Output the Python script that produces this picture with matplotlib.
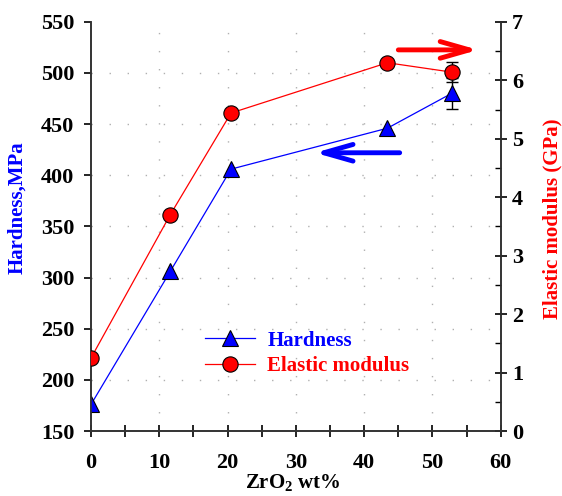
import matplotlib
matplotlib.use("Agg")
import matplotlib.pyplot as plt
from matplotlib.ticker import MultipleLocator

plt.rcParams['font.family'] = ['Liberation Serif', 'DejaVu Serif']
plt.rcParams['font.weight'] = 'bold'
plt.rcParams['mathtext.fontset'] = 'custom'
plt.rcParams['mathtext.rm'] = 'Liberation Serif:bold'
plt.rcParams['mathtext.bf'] = 'Liberation Serif:bold'

# data
zro2 = [0, 11.6, 20.5, 43.4, 52.8]
hardness = [176, 306, 406, 446, 480]
hardness_err = [0, 0, 0, 0, 15]
modulus = [1.25, 3.70, 5.44, 6.30, 6.14]
modulus_err = [0, 0, 0, 0, 0.17]

fig = plt.figure(figsize=(5.62, 4.96), dpi=100)
ax = fig.add_axes([0.162, 0.131, 0.729, 0.825])
ax2 = ax.twinx()

grid_kw = dict(color='#b0b0b0', lw=1.0, ls=(0, (1, 12)))
for gx in range(10, 60, 10):
    ax.axvline(gx, zorder=0, **grid_kw)
for gy in range(200, 550, 50):
    ax.axhline(gy, zorder=0, **grid_kw)

err_kw = dict(fmt='none', ecolor='black', elinewidth=1.0, capsize=4.5, capthick=1.0)
ax.errorbar(zro2[-1:], hardness[-1:], yerr=hardness_err[-1:], zorder=2, **err_kw)
ax2.errorbar(zro2[-1:], modulus[-1:], yerr=modulus_err[-1:], zorder=2, **err_kw)

h1, = ax.plot(zro2, hardness, color='blue', lw=0.9, marker='^', ms=11,
              mfc='blue', mec='black', mew=0.8, label='Hardness', zorder=3)
h2, = ax2.plot(zro2, modulus, color='red', lw=0.9, marker='o', ms=11,
               mfc='red', mec='black', mew=0.8, label='Elastic modulus', zorder=3)

ax.set_xlim(0, 60)
ax.set_ylim(150, 550)
ax2.set_ylim(0, 7)

ax.xaxis.set_major_locator(MultipleLocator(10))
ax.xaxis.set_minor_locator(MultipleLocator(5))
ax.yaxis.set_major_locator(MultipleLocator(50))
ax2.yaxis.set_major_locator(MultipleLocator(1))
ax2.yaxis.set_minor_locator(MultipleLocator(0.5))

ax.tick_params(axis='x', which='major', direction='inout', length=8, width=1.2, labelsize=16, pad=12)
ax.tick_params(axis='x', which='minor', direction='inout', length=8, width=1.2)
ax.tick_params(axis='y', which='major', direction='out', length=5, width=1.2, labelsize=16, pad=7)
ax2.tick_params(axis='y', which='major', direction='inout', length=8, width=1.2, labelsize=16, pad=4)
ax2.tick_params(axis='y', which='minor', direction='in', length=4, width=1.0)
for a in (ax, ax2):
    for s in a.spines.values():
        s.set_linewidth(1.2)
        s.set_color('#333333')
    a.spines['top'].set_visible(False)

ax.set_xlabel('ZrO$_2$ wt%', fontsize=15, fontweight='bold')
ax.xaxis.set_label_coords(0.492, -0.101)
ax.set_ylabel('Hardness,MPa', fontsize=15, fontweight='bold', color='blue')
ax.yaxis.set_label_coords(-0.156, 0.547)
ax2.set_ylabel('Elastic modulus (GPa)', fontsize=15, fontweight='bold', color='red')
ax2.yaxis.set_label_coords(1.102, 0.518)

# direction arrows
arrow_style = '->,head_length=2.1,head_width=0.6'
ax2.annotate('', xy=(56.7, 6.52), xytext=(45.0, 6.52),
             arrowprops=dict(arrowstyle=arrow_style, color='red', lw=3.5,
                             shrinkA=0, shrinkB=0, mutation_scale=10))
ax.annotate('', xy=(32.8, 422), xytext=(45.2, 422),
            arrowprops=dict(arrowstyle=arrow_style, color='blue', lw=3.5,
                            shrinkA=0, shrinkB=0, mutation_scale=10))

leg = ax.legend([h1, h2], ['Hardness', 'Elastic modulus'],
                loc='center left', bbox_to_anchor=(0.257, 0.19),
                frameon=False, fontsize=15, handlelength=2.4,
                labelspacing=0.25, handletextpad=0.6, borderaxespad=0)
for t, c in zip(leg.get_texts(), ['blue', 'red']):
    t.set_color(c)
    t.set_fontweight('bold')

fig.savefig('out.png', dpi=100)
